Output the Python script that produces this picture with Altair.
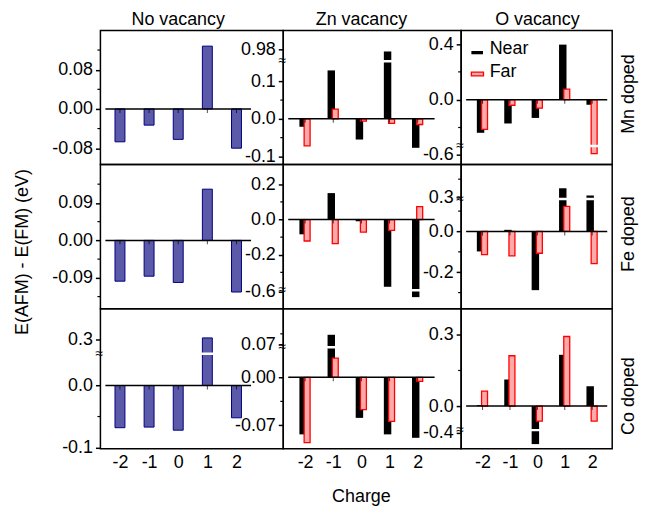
import altair as alt
import pandas as pd

FONT = "Liberation Sans"

CHARGES = [-2, -1, 0, 1, 2]
COL_TITLES = ["No vacancy", "Zn vacancy", "O vacancy"]
ROW_TITLES = ["Mn doped", "Fe doped", "Co doped"]
LEGEND_LABELS = ["Near", "Far"]
Y_TITLE = "E(AFM) - E(FM) (eV)"
X_TITLE = "Charge"

# No vacancy (single series)
NOVAC_MN = [-0.067, -0.033, -0.062, 0.128, -0.080]
NOVAC_FE = [-0.098, -0.086, -0.101, 0.123, -0.124]
NOVAC_CO = [-0.068, -0.067, -0.072, 0.303, -0.052]
# Zn vacancy
ZNVAC_MN_NEAR = [-0.021, 0.129, -0.055, 0.974, -0.077]
ZNVAC_MN_FAR = [-0.072, 0.026, -0.006, -0.012, -0.015]
ZNVAC_FE_NEAR = [-0.084, 0.150, -0.010, -0.382, -0.633]
ZNVAC_FE_FAR = [-0.122, -0.137, -0.071, -0.062, 0.073]
ZNVAC_CO_NEAR = [-0.083, 0.102, -0.059, -0.083, -0.088]
ZNVAC_CO_FAR = [-0.095, 0.028, -0.047, -0.064, -0.006]
# O vacancy
OVAC_MN_NEAR = [-0.238, -0.171, -0.131, 0.396, -0.036]
OVAC_MN_FAR = [-0.214, -0.040, -0.061, 0.076, -0.595]
OVAC_FE_NEAR = [-0.098, 0.008, -0.288, 0.350, 0.310]
OVAC_FE_FAR = [-0.114, -0.120, -0.107, 0.123, -0.158]
OVAC_CO_NEAR = [0.004, 0.112, -0.438, 0.216, 0.084]
OVAC_CO_FAR = [0.063, 0.212, -0.063, 0.293, -0.063]

SINGLE = {(0, 0): NOVAC_MN, (1, 0): NOVAC_FE, (2, 0): NOVAC_CO}
NEAR = {(0, 1): ZNVAC_MN_NEAR, (1, 1): ZNVAC_FE_NEAR, (2, 1): ZNVAC_CO_NEAR,
        (0, 2): OVAC_MN_NEAR, (1, 2): OVAC_FE_NEAR, (2, 2): OVAC_CO_NEAR}
FAR = {(0, 1): ZNVAC_MN_FAR, (1, 1): ZNVAC_FE_FAR, (2, 1): ZNVAC_CO_FAR,
       (0, 2): OVAC_MN_FAR, (1, 2): OVAC_FE_FAR, (2, 2): OVAC_CO_FAR}

# y ticks per panel
Y_TICKS = {
    (0, 0): [-0.08, 0.0, 0.08], (1, 0): [-0.09, 0.0, 0.09], (2, 0): [-0.1, 0.0, 0.3],
    (0, 1): [-0.1, 0.0, 0.1, 0.98], (1, 1): [-0.6, -0.2, 0.0, 0.2], (2, 1): [-0.07, 0.0, 0.07],
    (0, 2): [-0.6, 0.0, 0.4], (1, 2): [-0.2, 0.0, 0.3], (2, 2): [-0.4, 0.0, 0.3],
}
Y_TICK_LABELS = {
    (0, 0): ["-0.08", "0.00", "0.08"], (1, 0): ["-0.09", "0.00", "0.09"], (2, 0): ["-0.1", "0.0", "0.3"],
    (0, 1): ["-0.1", "0.0", "0.1", "0.98"], (1, 1): ["-0.6", "-0.2", "0.0", "0.2"], (2, 1): ["-0.07", "0.00", "0.07"],
    (0, 2): ["-0.6", "0.0", "0.4"], (1, 2): ["-0.2", "0.0", "0.3"], (2, 2): ["-0.4", "0.0", "0.3"],
}
Y_MINOR = {
    (0, 0): [-0.04, 0.04, 0.12], (1, 0): [-0.135, -0.045, 0.045, 0.135], (2, 0): [-0.05],
    (0, 1): [-0.05, 0.05], (1, 1): [-0.3, -0.1, 0.1], (2, 1): [-0.035, 0.105],
    (0, 2): [-0.2, 0.2], (1, 2): [-0.3, -0.1, 0.1, 0.4], (2, 2): [0.15],
}

# ---- layout / scale geometry ----
COL_W = [184, 179, 152]
ROW_H = [135, 145, 141]
X_DOMAIN = [[-2.5, 3.435], [-2.6, 3.367], [-2.6, 2.55]]
X_DATA_END = [2.5, 2.6, 2.55]
# broken axes: domain (bottom, break-low, break-high, top) -> pixel range
Y_DOMAIN = {
    (0, 0): [-0.1134, 0.16], (1, 0): [-0.164, 0.182], (2, 0): [-0.102, 0.0513, 0.2776, 0.350],
    (0, 1): [-0.1217, 0.1534, 0.948, 1.030], (1, 1): [-0.699, -0.594, -0.402, 0.312],
    (2, 1): [-0.104, 0.0439, 0.0624, 0.1856],
    (0, 2): [-0.674, -0.54, -0.333, 0.498], (1, 2): [-0.379, 0.159, 0.2907, 0.48],
    (2, 2): [-0.454, -0.3905, -0.101, 0.41],
}
Y_RANGE = {
    (0, 0): [135, 0], (1, 0): [145, 0], (2, 0): [141, 45.3, 45.3, 0],
    (0, 1): [135, 31, 31, 0], (1, 1): [145, 126.5, 126.5, 0], (2, 1): [141, 38.7, 38.7, 0],
    (0, 2): [135, 116.3, 116.3, 0], (1, 2): [145, 34.7, 34.7, 0], (2, 2): [141, 122.2, 122.2, 0],
}
ROW_LABEL_Y = [64, 70, 88]

BLUE_FILL = "#5a5aa8"
BLUE_STROKE = "#000080"
RED_FILL = "#ffaaaa"
RED = "#ff0000"
FS = 18


def label_expr(vals, labels):
    expr = "''"
    for v, l in zip(reversed(vals), reversed(labels)):
        expr = f"abs(datum.value - ({v})) < 1e-6 ? '{l}' : ({expr})"
    return expr


ONE = pd.DataFrame({"k": [0]})


def panel(r, c):
    key = (r, c)
    w, h = COL_W[c], ROW_H[r]
    xs = alt.Scale(domain=X_DOMAIN[c], nice=False, zero=False)
    ys = alt.Scale(domain=Y_DOMAIN[key], range=Y_RANGE[key], nice=False, zero=False)
    if r == 2:
        xaxis = alt.Axis(values=CHARGES, labelExpr="(datum.value < 0 ? '-' : '') + abs(datum.value)",
                         ticks=False, domain=False, grid=False, labelFontSize=FS, labelPadding=5,
                         labelFont=FONT, labelColor="black", title=None)
    else:
        xaxis = None
    yaxis = alt.Axis(values=Y_TICKS[key], labelExpr=label_expr(Y_TICKS[key], Y_TICK_LABELS[key]),
                     tickSize=5, tickWidth=1.5, tickColor="black", domain=False, grid=False,
                     labelFontSize=FS, labelPadding=3, labelFont=FONT, labelColor="black", title=None)

    def X(f):
        return alt.X(f, type="quantitative", scale=xs, axis=xaxis)

    def XD(v):
        return alt.XDatum(v, type="quantitative", scale=xs, axis=xaxis)

    def Y(f):
        return alt.Y(f, type="quantitative", scale=ys, axis=yaxis)

    def YD(v):
        return alt.YDatum(v, type="quantitative", scale=ys, axis=yaxis)

    layers = []
    if c == 0:
        df = pd.DataFrame({"charge": CHARGES, "val": SINGLE[key]})
        layers.append(alt.Chart(df).mark_bar(size=10, fill=BLUE_FILL, stroke=BLUE_STROKE, strokeWidth=1)
                      .encode(x=X("charge"), y=Y("val"), y2=alt.datum(0)))
    else:
        df = pd.DataFrame({"charge": CHARGES, "near": NEAR[key], "far": FAR[key]})
        layers.append(alt.Chart(df).mark_bar(size=7.5, color="black", xOffset=-2)
                      .encode(x=X("charge"), y=Y("near"), y2=alt.datum(0)))
        layers.append(alt.Chart(df).mark_bar(size=6, fill=RED_FILL, stroke=RED, strokeWidth=1.3, xOffset=2)
                      .encode(x=X("charge"), y=Y("far"), y2=alt.datum(0)))

    dom = Y_DOMAIN[key]
    if len(dom) == 4:
        layers.append(alt.Chart(ONE).mark_rule(color="white", strokeWidth=2.5)
                      .encode(x=XD(X_DOMAIN[c][0] + 0.12), x2=alt.datum(X_DATA_END[c]), y=YD(dom[1])))
        layers.append(alt.Chart(ONE).mark_text(text="≈", fontSize=14, font=FONT, align="center",
                                               baseline="middle", color="black")
                      .encode(x=alt.value(-1), y=YD(dom[1])))

    layers.append(alt.Chart(ONE).mark_rule(color="black", strokeWidth=1.5)
                  .encode(x=XD(X_DOMAIN[c][0]), x2=alt.datum(X_DATA_END[c]), y=YD(0)))
    # small ticks on the zero line at each charge
    tdf = pd.DataFrame({"charge": CHARGES})
    layers.append(alt.Chart(tdf).mark_tick(orient="vertical", size=4, thickness=1, yOffset=2, color="black")
                  .encode(x=X("charge"), y=YD(0)))

    mdf = pd.DataFrame({"v": Y_MINOR[key]})
    layers.append(alt.Chart(mdf).mark_rule(color="black", strokeWidth=1.2)
                  .encode(x=alt.value(0), x2=alt.value(-3), y=Y("v")))

    def text_layer(txt, **kw):
        return alt.Chart(pd.DataFrame({"t": [txt]})).mark_text(font=FONT, fontSize=FS, color="black", **kw)

    if r == 0:
        layers.append(text_layer(COL_TITLES[c], align="center", baseline="middle")
                      .encode(x=XD(0), y=alt.value(-10.5), text="t:N"))
    if c == 2:
        layers.append(text_layer(ROW_TITLES[r], align="center", baseline="middle", angle=270)
                      .encode(x=alt.value(w + 17), y=alt.value(ROW_LABEL_Y[r]), text="t:N"))
    if key == (1, 0):
        layers.append(text_layer(Y_TITLE, align="center", baseline="middle", angle=270)
                      .encode(x=alt.value(-78), y=alt.value(88), text="t:N"))
    if key == (2, 1):
        layers.append(text_layer(X_TITLE, align="center", baseline="middle")
                      .encode(x=XD(0), y=alt.value(h + 49), text="t:N"))
    if key == (0, 2):
        layers.append(alt.Chart(ONE).mark_rect(color="black")
                      .encode(x=alt.value(10.3), x2=alt.value(22), y=alt.value(20.7), y2=alt.value(24)))
        layers.append(alt.Chart(ONE).mark_rect(fill=RED_FILL, stroke=RED, strokeWidth=1.3)
                      .encode(x=alt.value(10.3), x2=alt.value(22.5), y=alt.value(42), y2=alt.value(45.7)))
        layers.append(text_layer(LEGEND_LABELS[0], align="left", baseline="middle")
                      .encode(x=alt.value(28.7), y=alt.value(19), text="t:N"))
        layers.append(text_layer(LEGEND_LABELS[1], align="left", baseline="middle")
                      .encode(x=alt.value(28.7), y=alt.value(41.5), text="t:N"))

    return alt.layer(*layers).properties(width=w, height=h)


panels = [panel(r, c) for r in range(3) for c in range(3)]

chart = (
    alt.concat(*panels, columns=3, spacing=0, bounds="flush")
    .properties(padding={"left": 5, "top": 0, "right": 5, "bottom": 0})
    .configure_view(stroke="black", strokeWidth=1.5)
)

chart.save("out.html", embed_options={"renderer": "svg", "actions": False})
